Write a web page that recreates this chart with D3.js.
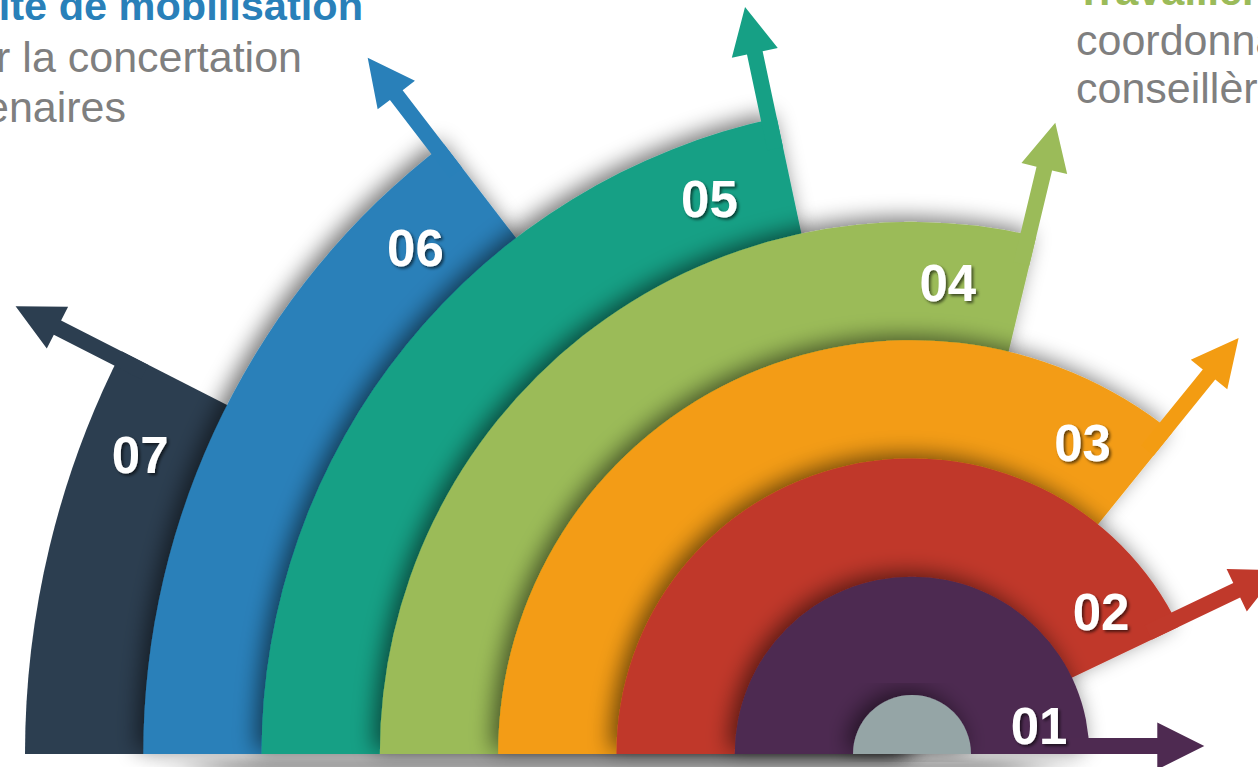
<!DOCTYPE html>
<html>
<head>
<meta charset="utf-8">
<script src="https://cdnjs.cloudflare.com/ajax/libs/d3/7.8.5/d3.min.js"></script>
<style>
  html, body { margin: 0; padding: 0; background: #fff; overflow: hidden; }
  svg { display: block; font-family: "Liberation Sans", Arial, sans-serif; }
</style>
</head>
<body>
<div id="chart"></div>
<script>
// steps, from the innermost ring outwards
const steps = ["01", "02", "03", "04", "05", "06", "07"];
const stepColors = ["#4e2a51", "#c0392b", "#f39c12", "#9bbb59", "#16a085", "#2980b9", "#2c3e50"];
const hubColor = "#95a5a6";

// text blocks (they run out of the frame in the original)
const leftTitle = "Comité de mobilisation";
const leftLines = ["pour la concertation", "des partenaires"];
const rightTitle = "Travailler avec les";
const rightLines = ["coordonnatrices et", "conseillères"];

document.addEventListener('DOMContentLoaded', function() {
    const width = 1258, height = 767;
    const cx = 912, cy = 754;   // centre of the half circle

    // radius of each ring edge, index 0 = the grey hub
    const ring = d3.scaleLinear().domain([0, steps.length]).range([59, 887]);
    // angle (deg, from the right) where each ring stops
    const endDeg = d3.scaleLinear().domain([0, steps.length - 1]).range([0, 153]);
    // labels sit a little behind the arrow end
    const labelOffset = d3.scaleLinear().domain([0, steps.length - 1]).range([12.5, 5.8]);

    const arrow = {shaft: 16, headLen: 47, headHalf: 23.5, reach: 115};

    const svg = d3.select("#chart")
                  .append("svg")
                  .attr("width", width)
                  .attr("height", height);

    const defs = svg.append("defs");

    // soft shadow behind the rings
    const sh = defs.append("filter").attr("id", "ringShadow")
                   .attr("x", "-20%").attr("y", "-20%").attr("width", "140%").attr("height", "140%");
    sh.append("feGaussianBlur").attr("in", "SourceAlpha").attr("stdDeviation", 11).attr("result", "b");
    sh.append("feOffset").attr("in", "b").attr("dx", -6).attr("dy", -4).attr("result", "o");
    sh.append("feComponentTransfer").attr("in", "o").attr("result", "s")
      .append("feFuncA").attr("type", "linear").attr("slope", 0.55);
    const shm = sh.append("feMerge");
    shm.append("feMergeNode").attr("in", "s");
    shm.append("feMergeNode").attr("in", "SourceGraphic");

    // blur for the shadow under the base line
    defs.append("filter").attr("id", "baseBlur")
        .attr("x", "-10%").attr("y", "-100%").attr("width", "120%").attr("height", "300%")
        .append("feGaussianBlur").attr("stdDeviation", "30 4");

    // text shadow for the numbers
    const ts = defs.append("filter").attr("id", "textShadow")
                   .attr("x", "-20%").attr("y", "-20%").attr("width", "150%").attr("height", "150%");
    ts.append("feDropShadow").attr("dx", 2).attr("dy", 2).attr("stdDeviation", 1.4)
      .attr("flood-color", "#000").attr("flood-opacity", 0.6);

    const rad = d => d * Math.PI / 180;

    function arrowPath(i) {
        const r = ring(i + 1);
        const t = rad(endDeg(i));
        const u = [Math.cos(t), -Math.sin(t)];      // outward
        const n = [-Math.sin(t), -Math.cos(t)];     // towards the ring body
        const P = (s, o) => [cx + s * u[0] + o * n[0], cy + s * u[1] + o * n[1]];
        const s0 = r - 30, sb = r + arrow.reach - arrow.headLen, st = r + arrow.reach;
        const w = arrow.shaft, mid = w / 2;
        const pts = [P(s0, 0), P(sb, 0), P(sb, mid - arrow.headHalf), P(st, mid),
                     P(sb, mid + arrow.headHalf), P(sb, w), P(s0, w)];
        return "M" + pts.map(p => p.join(",")).join("L") + "Z";
    }

    // shadow strip under the base line
    svg.append("rect")
       .attr("x", cx - ring(6) + 60).attr("y", cy + 5)
       .attr("width", ring(6) + 60).attr("height", 16)
       .attr("fill", "#000").attr("opacity", 0.32)
       .attr("filter", "url(#baseBlur)");

    const g = svg.append("g");

    // draw from the outside in, so each ring shades the one behind it
    d3.range(steps.length - 1, -1, -1).forEach(i => {
        const arc = d3.arc()
                      .innerRadius(0)
                      .outerRadius(ring(i + 1))
                      .startAngle(-Math.PI / 2)
                      .endAngle(Math.PI / 2 - rad(endDeg(i)));

        g.append("path")
         .attr("class", "ring")
         .attr("transform", `translate(${cx},${cy})`)
         .attr("d", arc())
         .attr("fill", stepColors[i])
         .attr("filter", i < steps.length - 1 ? "url(#ringShadow)" : null);

        g.append("path")
         .attr("class", "arrow")
         .attr("d", arrowPath(i))
         .attr("fill", stepColors[i]);
    });

    // grey hub
    g.append("path")
     .attr("transform", `translate(${cx},${cy})`)
     .attr("d", d3.arc().innerRadius(0).outerRadius(ring(0))
                  .startAngle(-Math.PI / 2).endAngle(Math.PI / 2)())
     .attr("fill", hubColor)
     .attr("filter", "url(#ringShadow)");

    // numbers
    steps.forEach((s, i) => {
        const mid = (ring(i) + ring(i + 1)) / 2 + (i === 0 ? 12 : 0);
        const a = rad(endDeg(i) + labelOffset(i));
        svg.append("text")
           .attr("x", cx + mid * Math.cos(a))
           .attr("y", cy - mid * Math.sin(a))
           .attr("dy", "0.36em")
           .attr("text-anchor", "middle")
           .attr("fill", "#fff")
           .attr("filter", "url(#textShadow)")
           .style("font-size", "51px")
           .style("font-weight", "bold")
           .text(s);
    });

    // left text block
    svg.append("text")
       .attr("x", 363).attr("y", 20)
       .attr("text-anchor", "end")
       .attr("fill", stepColors[5])
       .style("font-size", "41.5px").style("font-weight", "bold")
       .text(leftTitle);
    const leftEnds = [302, 126];
    leftLines.forEach((t, k) => {
        svg.append("text")
           .attr("x", leftEnds[k]).attr("y", 72 + k * 50)
           .attr("text-anchor", "end")
           .attr("fill", "#7f7f7f")
           .style("font-size", "43px")
           .text(t);
    });

    // right text block
    svg.append("text")
       .attr("x", 1076).attr("y", 5)
       .attr("fill", stepColors[3])
       .style("font-size", "41.5px").style("font-weight", "bold")
       .text(rightTitle);
    rightLines.forEach((t, k) => {
        svg.append("text")
           .attr("x", 1076).attr("y", 55 + k * 48)
           .attr("fill", "#7f7f7f")
           .style("font-size", "43px")
           .text(t);
    });
});
</script>
</body>
</html>
